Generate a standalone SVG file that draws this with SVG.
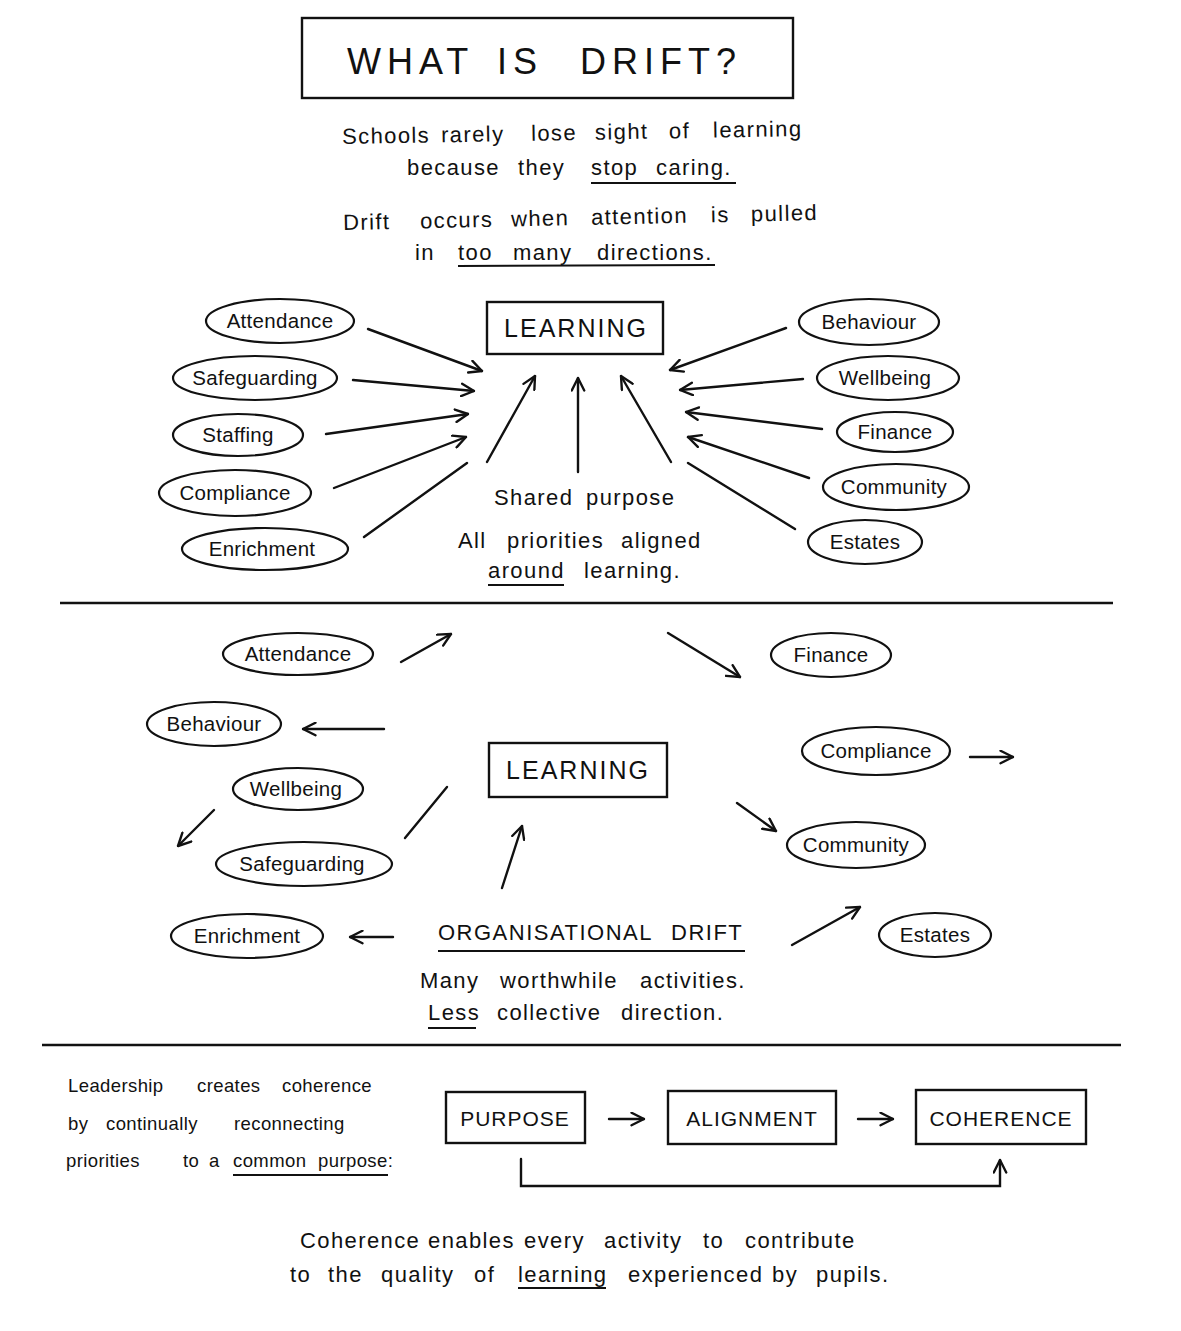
<svg xmlns="http://www.w3.org/2000/svg" width="1181" height="1331" viewBox="0 0 1181 1331">
<defs>
<marker id="ah" viewBox="0 0 12 12" refX="11" refY="6" markerWidth="15" markerHeight="15" markerUnits="userSpaceOnUse" orient="auto">
<path d="M1,1 L11,6 L1,11" fill="none" stroke="#111" stroke-width="1.9" stroke-linecap="round" stroke-linejoin="round"/>
</marker>
<style>
text{font-family:"Liberation Sans","DejaVu Sans",sans-serif;fill:#111}
.pill{fill:#fff;stroke:#111;stroke-width:2.2}
.box{fill:#fff;stroke:#111;stroke-width:2.4}
.lbl{font-size:20.5px;text-anchor:middle;letter-spacing:0.3px}
.box-t{font-size:25px;text-anchor:middle;letter-spacing:2px}
.body{font-size:22px;letter-spacing:1.4px}
.left{font-size:18.5px;letter-spacing:0.4px}
.c{stroke:#111;stroke-width:2.4;fill:none;stroke-linecap:round}
.ar{marker-end:url(#ah)}
.ul{stroke:#111;stroke-width:2;fill:none}
</style>
</defs>
<rect width="1181" height="1331" fill="#fff"/>

<g id="title">
<rect x="302" y="18" width="491" height="80" class="box"/>
<text y="74" font-size="36" letter-spacing="6"><tspan x="347">WHAT</tspan><tspan x="497">IS</tspan><tspan x="580">DRIFT?</tspan></text>
</g>

<g id="intro">
<text class="body" y="140" transform="rotate(-1 576 133)"><tspan x="342">Schools</tspan><tspan x="441">rarely</tspan><tspan x="531">lose</tspan><tspan x="595">sight</tspan><tspan x="669">of</tspan><tspan x="713">learning</tspan></text>
<text class="body" y="175"><tspan x="407">because</tspan><tspan x="518">they</tspan><tspan x="591">stop</tspan><tspan x="656">caring.</tspan></text>
<line class="ul" x1="591" y1="183" x2="736" y2="183"/>
<text class="body" y="225" transform="rotate(-1.2 582 218)"><tspan x="343">Drift</tspan><tspan x="420">occurs</tspan><tspan x="511">when</tspan><tspan x="591">attention</tspan><tspan x="711">is</tspan><tspan x="751">pulled</tspan></text>
<text class="body" y="260"><tspan x="415">in</tspan><tspan x="458">too</tspan><tspan x="513">many</tspan><tspan x="597">directions.</tspan></text>
<line class="ul" x1="458" y1="266" x2="715" y2="265"/>
</g>

<!-- Top section -->
<g id="top-learning">
<rect x="487" y="302" width="176" height="52" class="box"/>
<text class="box-t" x="576" y="337">LEARNING</text>
</g>
<g id="top-attendance"><ellipse class="pill" cx="280" cy="321" rx="74" ry="22"/><text class="lbl" x="280" y="328">Attendance</text></g>
<g id="top-safeguarding"><ellipse class="pill" cx="255" cy="378" rx="82" ry="22"/><text class="lbl" x="255" y="385">Safeguarding</text></g>
<g id="top-staffing"><ellipse class="pill" cx="238" cy="435" rx="65" ry="21"/><text class="lbl" x="238" y="442">Staffing</text></g>
<g id="top-compliance"><ellipse class="pill" cx="235" cy="493" rx="76" ry="23"/><text class="lbl" x="235" y="500">Compliance</text></g>
<g id="top-enrichment"><ellipse class="pill" cx="265" cy="549" rx="83" ry="21"/><text class="lbl" x="262" y="556">Enrichment</text></g>
<g id="top-behaviour"><ellipse class="pill" cx="869" cy="322" rx="70" ry="23"/><text class="lbl" x="869" y="329">Behaviour</text></g>
<g id="top-wellbeing"><ellipse class="pill" cx="888" cy="378" rx="71" ry="22"/><text class="lbl" x="885" y="385">Wellbeing</text></g>
<g id="top-finance"><ellipse class="pill" cx="895" cy="432" rx="58" ry="20"/><text class="lbl" x="895" y="439">Finance</text></g>
<g id="top-community"><ellipse class="pill" cx="896" cy="487" rx="73" ry="23"/><text class="lbl" x="894" y="494">Community</text></g>
<g id="top-estates"><ellipse class="pill" cx="865" cy="542" rx="57" ry="22"/><text class="lbl" x="865" y="549">Estates</text></g>
<g id="top-caption">
<text class="body" y="505"><tspan x="494">Shared</tspan><tspan x="586">purpose</tspan></text>
<text class="body" y="548"><tspan x="458">All</tspan><tspan x="507">priorities</tspan><tspan x="621">aligned</tspan></text>
<text class="body" y="578"><tspan x="488">around</tspan><tspan x="584">learning.</tspan></text>
<line class="ul" x1="488" y1="585" x2="564" y2="585"/>
</g>

<g id="top-connectors">
<line class="c ar" x1="368" y1="329" x2="482" y2="371"/>
<line class="c ar" x1="353" y1="380" x2="474" y2="391"/>
<line class="c ar" x1="326" y1="434" x2="468" y2="414"/>
<line class="c ar" x1="334" y1="488" x2="466" y2="437"/>
<line class="c" x1="364" y1="537" x2="467" y2="463"/>
<line class="c ar" x1="487" y1="462" x2="535" y2="376"/>
<line class="c ar" x1="578" y1="472" x2="578" y2="378"/>
<line class="c ar" x1="671" y1="462" x2="621" y2="376"/>
<line class="c ar" x1="786" y1="328" x2="670" y2="370"/>
<line class="c ar" x1="803" y1="379" x2="680" y2="390"/>
<line class="c ar" x1="822" y1="429" x2="686" y2="412"/>
<line class="c ar" x1="809" y1="478" x2="688" y2="437"/>
<line class="c" x1="795" y1="529" x2="688" y2="463"/>
</g>

<line x1="60" y1="603" x2="1113" y2="603" stroke="#111" stroke-width="2.4"/>

<!-- Middle section -->
<g id="mid-learning">
<rect x="489" y="743" width="178" height="54" class="box"/>
<text class="box-t" x="578" y="779">LEARNING</text>
</g>
<g id="mid-attendance"><ellipse class="pill" cx="298" cy="654" rx="75" ry="21"/><text class="lbl" x="298" y="661">Attendance</text></g>
<g id="mid-behaviour"><ellipse class="pill" cx="214" cy="724" rx="67" ry="22"/><text class="lbl" x="214" y="731">Behaviour</text></g>
<g id="mid-wellbeing"><ellipse class="pill" cx="298" cy="789" rx="65" ry="21"/><text class="lbl" x="296" y="796">Wellbeing</text></g>
<g id="mid-safeguarding"><ellipse class="pill" cx="304" cy="864" rx="88" ry="22"/><text class="lbl" x="302" y="871">Safeguarding</text></g>
<g id="mid-enrichment"><ellipse class="pill" cx="247" cy="936" rx="76" ry="22"/><text class="lbl" x="247" y="943">Enrichment</text></g>
<g id="mid-finance"><ellipse class="pill" cx="831" cy="655" rx="60" ry="22"/><text class="lbl" x="831" y="662">Finance</text></g>
<g id="mid-compliance"><ellipse class="pill" cx="876" cy="751" rx="74" ry="24"/><text class="lbl" x="876" y="758">Compliance</text></g>
<g id="mid-community"><ellipse class="pill" cx="856" cy="845" rx="69" ry="23"/><text class="lbl" x="856" y="852">Community</text></g>
<g id="mid-estates"><ellipse class="pill" cx="935" cy="935" rx="56" ry="22"/><text class="lbl" x="935" y="942">Estates</text></g>
<g id="mid-caption">
<text y="940" font-size="22" letter-spacing="1.5"><tspan x="438">ORGANISATIONAL</tspan><tspan x="671">DRIFT</tspan></text>
<line class="ul" x1="438" y1="951" x2="745" y2="951"/>
<text class="body" y="988"><tspan x="420">Many</tspan><tspan x="500">worthwhile</tspan><tspan x="640">activities.</tspan></text>
<text class="body" y="1020"><tspan x="428">Less</tspan><tspan x="497">collective</tspan><tspan x="621">direction.</tspan></text>
<line class="ul" x1="428" y1="1028" x2="476" y2="1028"/>
</g>

<g id="mid-connectors">
<line class="c ar" x1="401" y1="662" x2="451" y2="634"/>
<line class="c ar" x1="668" y1="633" x2="740" y2="677"/>
<line class="c ar" x1="384" y1="729" x2="303" y2="729"/>
<line class="c ar" x1="214" y1="810" x2="178" y2="846"/>
<line class="c" x1="447" y1="787" x2="405" y2="838"/>
<line class="c ar" x1="502" y1="888" x2="522" y2="826"/>
<line class="c ar" x1="393" y1="937" x2="350" y2="937"/>
<line class="c ar" x1="970" y1="757" x2="1013" y2="757"/>
<line class="c ar" x1="737" y1="803" x2="776" y2="831"/>
<line class="c ar" x1="792" y1="945" x2="860" y2="907"/>
</g>

<line x1="42" y1="1045" x2="1121" y2="1045" stroke="#111" stroke-width="2.4"/>

<!-- Bottom section -->
<g id="bottom-text">
<text class="left" y="1092"><tspan x="68">Leadership</tspan><tspan x="197">creates</tspan><tspan x="282">coherence</tspan></text>
<text class="left" y="1130"><tspan x="68">by</tspan><tspan x="106">continually</tspan><tspan x="234">reconnecting</tspan></text>
<text class="left" y="1167"><tspan x="66">priorities</tspan><tspan x="183">to</tspan><tspan x="209">a</tspan><tspan x="233">common</tspan><tspan x="318">purpose:</tspan></text>
<line class="ul" x1="233" y1="1175" x2="388" y2="1175"/>
</g>
<g id="purpose"><rect x="446" y="1092" width="139" height="51" class="box"/><text x="515" y="1126" font-size="21" text-anchor="middle" letter-spacing="1">PURPOSE</text></g>
<g id="alignment"><rect x="668" y="1091" width="168" height="53" class="box"/><text x="752" y="1126" font-size="21" text-anchor="middle" letter-spacing="1">ALIGNMENT</text></g>
<g id="coherence"><rect x="916" y="1090" width="170" height="54" class="box"/><text x="1001" y="1126" font-size="21" text-anchor="middle" letter-spacing="1">COHERENCE</text></g>
<g id="bottom-connectors">
<line class="c ar" x1="609" y1="1119" x2="644" y2="1119"/>
<line class="c ar" x1="858" y1="1119" x2="893" y2="1119"/>
<polyline class="c ar" points="521,1159 521,1186 1000,1186 1000,1160"/>
</g>
<g id="closing">
<text class="body" y="1248"><tspan x="300">Coherence</tspan><tspan x="428">enables</tspan><tspan x="524">every</tspan><tspan x="604">activity</tspan><tspan x="703">to</tspan><tspan x="745">contribute</tspan></text>
<text class="body" y="1282"><tspan x="290">to</tspan><tspan x="328">the</tspan><tspan x="381">quality</tspan><tspan x="474">of</tspan><tspan x="518">learning</tspan><tspan x="628">experienced</tspan><tspan x="772">by</tspan><tspan x="816">pupils.</tspan></text>
<line class="ul" x1="518" y1="1288" x2="606" y2="1288"/>
</g>
</svg>
